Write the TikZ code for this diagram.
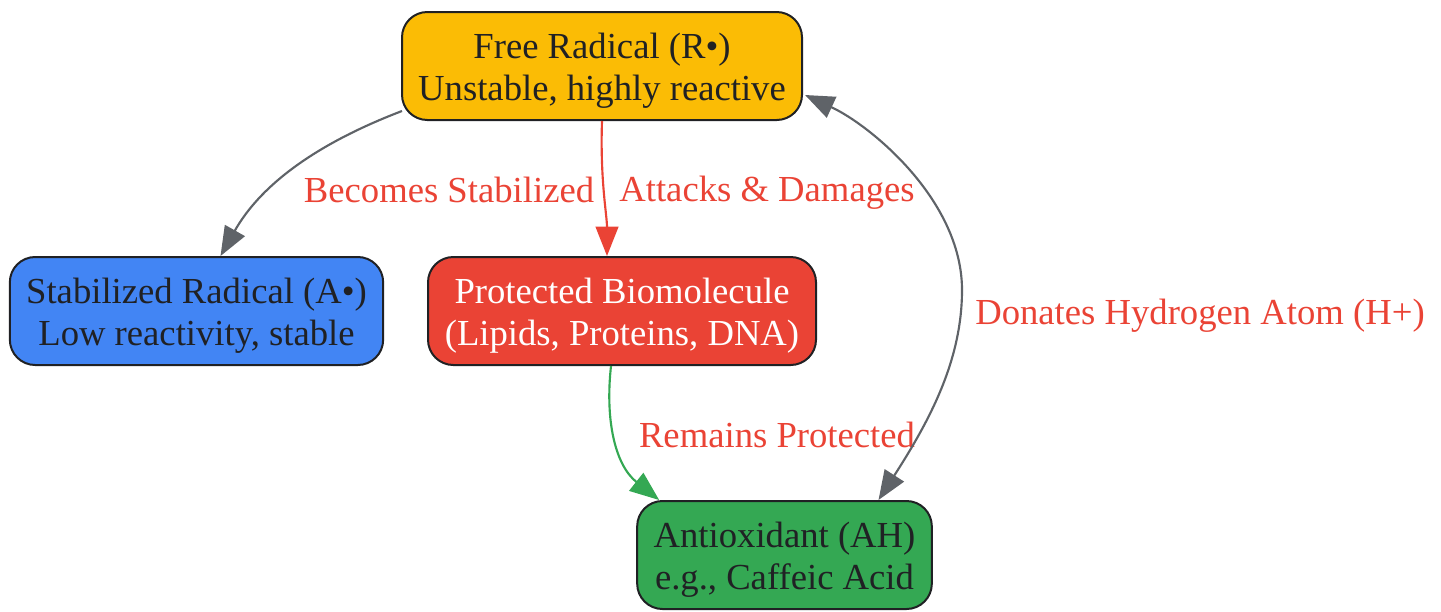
\documentclass[tikz,border=0pt]{standalone}
\usepackage{fontspec}
\setmainfont{Liberation Serif}
\usetikzlibrary{arrows.meta,calc}
\definecolor{gyellow}{HTML}{FBBC05}
\definecolor{gblue}{HTML}{4285F4}
\definecolor{gred}{HTML}{EA4335}
\definecolor{ggreen}{HTML}{34A853}
\definecolor{ggray}{HTML}{5F6368}
\definecolor{gdark}{HTML}{202124}
\begin{document}
\begin{tikzpicture}[x=0.75pt,y=-0.75pt,
  box/.style={draw=gdark,line width=1.5pt,rounded corners=19pt,inner sep=0pt,minimum height=81pt},
  txt/.style={align=center,font=\fontsize{27.5}{31.5}\selectfont,text=gdark,inner sep=0pt},
  lbl/.style={font=\fontsize{27.5}{31.5}\selectfont,text=gred,inner sep=0pt},
  conn/.style={line width=1.6pt,-{Triangle[length=22pt,width=17pt]}},
  biconn/.style={line width=1.6pt,{Triangle[length=22pt,width=17pt]}-{Triangle[length=22pt,width=17pt]}}]
\useasboundingbox (0,0) rectangle (1441,611);
\node[box,fill=gyellow,minimum width=300pt] (free) at (602,66) {};
\node[box,fill=gblue,minimum width=280pt] (stab) at (196.5,311) {};
\node[box,fill=gred,minimum width=291pt] (prot) at (622,311) {};
\node[box,fill=ggreen,minimum width=221pt] (anti) at (784.5,555) {};
\node[txt] (freet) at ($(free)+(0,5)$) {Free Radical (R•)\\Unstable, highly reactive};
\node[txt] (stabt) at ($(stab)+(0,5)$) {Stabilized Radical (A•)\\Low reactivity, stable};
\node[txt,text=white] (prott) at ($(prot)+(0,5)$) {Protected Biomolecule\\(Lipids, Proteins, DNA)};
\node[txt] (antit) at ($(anti)+(0,5)$) {Antioxidant (AH)\\e.g., Caffeic Acid};
\node[lbl] (l1) at (449,190) {Becomes Stabilized};
\node[lbl] (l2) at (767,193) {Attacks \& Damages};
\node[lbl] (l3) at (777,435) {Remains Protected};
\node[lbl] (l4) at (1200,316) {Donates Hydrogen Atom (H+)};
\draw[conn,ggray] ($(free.south west)+(1,-10)$) .. controls (300,150) and (255,195) .. ($(stab.north)+(24,0)$);
\draw[conn,gred] (free.south) .. controls (600,180) and (607,215) .. ($(prot.north)+(-15,0)$);
\draw[conn,ggreen] ($(prot.south)+(-11,0)$) .. controls (605,420) and (615,465) .. ($(anti.north west)+(23,0)$);
\draw[biconn,ggray] ($(free.east)+(2,29)$) .. controls (870,125) and (962,200) .. (962,290) .. controls (962,360) and (930,420) .. ($(anti.north)+(94,0)$);
\end{tikzpicture}
\end{document}
